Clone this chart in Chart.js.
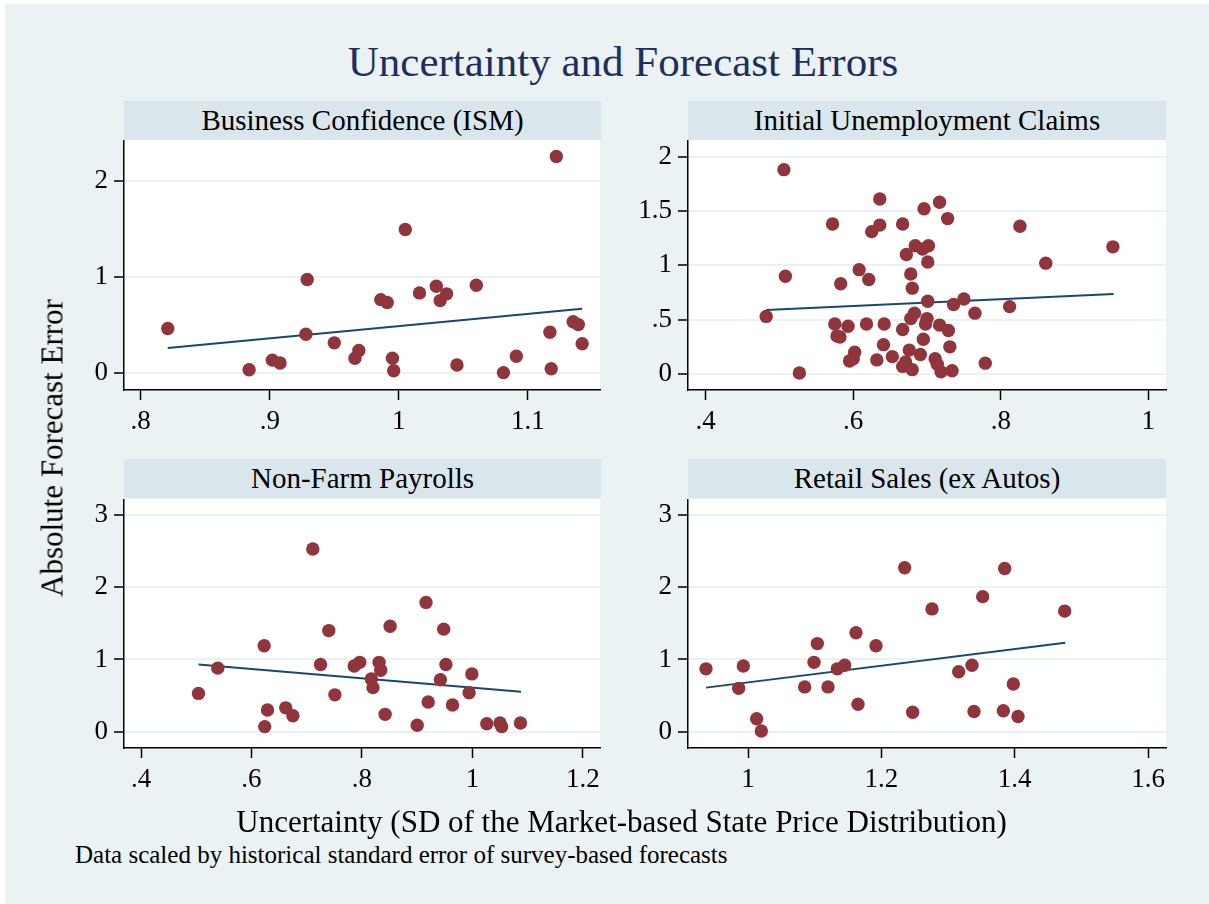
<!DOCTYPE html>
<html>
<head>
<meta charset="utf-8">
<title>Uncertainty and Forecast Errors</title>
<script src="https://cdn.jsdelivr.net/npm/chart.js@4.4.1/dist/chart.umd.min.js"></script>
<style>
  body { margin: 0; width: 1209px; height: 904px; background: #fff; position: relative; overflow: hidden;
         font-family: "Liberation Serif", "Times New Roman", serif; color: #000; }
  #bg { position: absolute; left: 5px; top: 4px; width: 1204px; height: 900px; background: #eaf2f3; }
  .abs { position: absolute; white-space: nowrap; line-height: 1; }
  #title { left: 0; width: 1246px; top: 40px; text-align: center; font-size: 43px; color: #1e2f5e; }
  .bar { position: absolute; height: 39px; background: #d9e6eb; font-size: 29px; line-height: 39px; text-align: center; }
  canvas { position: absolute; }
  #ytitle { left: 52px; top: 448px; font-size: 31px; transform: translate(-50%, -50%) rotate(-90deg); }
  #xtitle { left: 0; width: 1243px; top: 806px; text-align: center; font-size: 31px; }
  #note { left: 75px; top: 842px; font-size: 25px; }
</style>
</head>
<body>
<div id="bg"></div>
<div id="title" class="abs">Uncertainty and Forecast Errors</div>

<div class="bar" style="left:124px; top:101px; width:477px;">Business Confidence (ISM)</div>
<div class="bar" style="left:688px; top:101px; width:478px;">Initial Unemployment Claims</div>
<div class="bar" style="left:124px; top:459px; width:477px;">Non-Farm Payrolls</div>
<div class="bar" style="left:688px; top:459px; width:478px;">Retail Sales (ex Autos)</div>

<canvas id="c1" width="570" height="310" style="left:54px; top:140px;"></canvas>
<canvas id="c2" width="572" height="310" style="left:618px; top:140px;"></canvas>
<canvas id="c3" width="570" height="309" style="left:54px; top:499px;"></canvas>
<canvas id="c4" width="572" height="309" style="left:618px; top:499px;"></canvas>

<div id="ytitle" class="abs">Absolute Forecast Error</div>
<div id="xtitle" class="abs">Uncertainty (SD of the Market-based State Price Distribution)</div>
<div id="note" class="abs">Data scaled by historical standard error of survey-based forecasts</div>

<script>
// Business Confidence (ISM)
var bizX = [0.821, 0.884, 0.902, 0.908, 0.929, 0.928, 0.950, 0.969, 0.966, 0.986, 0.991, 0.995, 0.996, 1.005,
            1.016, 1.029, 1.037, 1.032, 1.060, 1.045, 1.081, 1.091, 1.117, 1.118, 1.122, 1.135, 1.139, 1.142];
var bizY = [0.46, 0.03, 0.13, 0.10, 0.97, 0.40, 0.31, 0.23, 0.15, 0.76, 0.73, 0.15, 0.02, 1.49,
            0.83, 0.90, 0.82, 0.75, 0.91, 0.08, 0.00, 0.17, 0.42, 0.04, 2.25, 0.53, 0.50, 0.30];
var bizFitX = [0.821, 1.142];
var bizFitY = [0.256, 0.664];
var bizXTicks = [0.8, 0.9, 1, 1.1];
var bizYTicks = [0, 1, 2];

// Initial Unemployment Claims
var claimsX = [0.506, 0.636, 0.717, 0.696, 0.728, 0.572, 0.636, 0.667, 0.625, 0.826, 0.684, 0.702, 0.694, 0.672,
               0.701, 0.952, 0.861, 0.608, 0.508, 0.583, 0.621, 0.678, 0.680, 0.701, 0.750, 0.736, 0.812, 0.765,
               0.482, 0.683, 0.678, 0.700, 0.698, 0.717, 0.729, 0.575, 0.593, 0.618, 0.642, 0.667, 0.578, 0.582,
               0.695, 0.641, 0.731, 0.676, 0.691, 0.602, 0.600, 0.595, 0.653, 0.632, 0.711, 0.714, 0.779, 0.671,
               0.667, 0.680, 0.719, 0.734, 0.527];
var claimsY = [1.88, 1.61, 1.58, 1.52, 1.43, 1.38, 1.37, 1.38, 1.31, 1.36, 1.18, 1.18, 1.15, 1.10,
               1.03, 1.17, 1.02, 0.96, 0.90, 0.83, 0.87, 0.92, 0.79, 0.67, 0.69, 0.64, 0.62, 0.56,
               0.53, 0.56, 0.51, 0.51, 0.46, 0.45, 0.40, 0.46, 0.44, 0.46, 0.46, 0.41, 0.35, 0.34,
               0.32, 0.27, 0.25, 0.22, 0.18, 0.20, 0.14, 0.12, 0.16, 0.13, 0.14, 0.09, 0.10, 0.11,
               0.07, 0.04, 0.02, 0.03, 0.01];
var claimsFitX = [0.482, 0.953];
var claimsFitY = [0.59, 0.736];
var claimsXTicks = [0.4, 0.6, 0.8, 1];
var claimsYTicks = [0, 0.5, 1, 1.5, 2];

// Non-Farm Payrolls
var payX = [0.711, 0.916, 0.740, 0.851, 0.948, 0.623, 0.539, 0.504, 0.725, 0.786, 0.796, 0.831, 0.834, 0.817,
            0.820, 0.952, 0.999, 0.942, 0.994, 0.751, 0.629, 0.662, 0.675, 0.624, 0.842, 0.920, 0.964, 0.900,
            1.026, 1.050, 1.053, 1.087];
var payY = [2.53, 1.79, 1.40, 1.46, 1.42, 1.19, 0.88, 0.53, 0.93, 0.91, 0.96, 0.96, 0.85, 0.73,
            0.61, 0.93, 0.80, 0.72, 0.54, 0.51, 0.30, 0.33, 0.22, 0.07, 0.24, 0.41, 0.37, 0.09,
            0.11, 0.12, 0.07, 0.12];
var payFitX = [0.504, 1.088];
var payFitY = [0.93, 0.554];
var payXTicks = [0.4, 0.6, 0.8, 1, 1.2];
var payYTicks = [0, 1, 2, 3];

// Retail Sales (ex Autos)
var retailX = [1.235, 1.385, 1.352, 1.276, 1.475, 1.162, 1.104, 1.192, 0.937, 0.993, 1.099, 1.134, 1.145,
               1.316, 1.336, 0.986, 1.085, 1.120, 1.398, 1.165, 1.247, 1.339, 1.383, 1.405, 1.013, 1.020];
var retailY = [2.27, 2.26, 1.87, 1.70, 1.67, 1.37, 1.22, 1.19, 0.87, 0.91, 0.96, 0.87, 0.92,
               0.83, 0.92, 0.60, 0.62, 0.62, 0.66, 0.38, 0.27, 0.28, 0.29, 0.21, 0.18, 0.01];
var retailFitX = [0.937, 1.476];
var retailFitY = [0.61, 1.23];
var retailXTicks = [1, 1.2, 1.4, 1.6];
var retailYTicks = [0, 1, 2, 3];

var dotColor = '#90353b';
var lineColor = '#1a476f';
var tickFont = { family: "'Liberation Serif', 'Times New Roman', serif", size: 27 };

function fmt(v) {
    return String(Math.round(v * 10) / 10).replace(/^0\./, '.');
}

function pairs(xs, ys) {
    return xs.map(function (x, i) { return { x: x, y: ys[i] }; });
}

// white plot region
var plotBg = {
    id: 'plotBg',
    beforeDraw: function (chart) {
        var a = chart.chartArea, ctx = chart.ctx;
        ctx.save();
        ctx.fillStyle = '#fff';
        ctx.fillRect(a.left, a.top, a.right - a.left, a.bottom - a.top);
        ctx.restore();
    }
};

function panel(id, xs, ys, fitX, fitY, xTicks, yTicks, xRange, yRange) {
    return new Chart(document.getElementById(id), {
        type: 'scatter',
        data: {
            datasets: [
                {
                    data: pairs(xs, ys),
                    backgroundColor: dotColor,
                    borderColor: dotColor,
                    pointRadius: 6.7,
                    pointBorderWidth: 0,
                    order: 0
                },
                {
                    type: 'line',
                    data: pairs(fitX, fitY),
                    borderColor: lineColor,
                    borderWidth: 2,
                    pointRadius: 0,
                    fill: false,
                    order: 1
                }
            ]
        },
        options: {
            responsive: false,
            animation: false,
            events: [],
            layout: { autoPadding: false, padding: { left: 0, top: 0, right: 24, bottom: 0 } },
            plugins: { legend: { display: false }, tooltip: { enabled: false } },
            scales: {
                x: {
                    type: 'linear',
                    min: xRange[0], max: xRange[1],
                    afterBuildTicks: function (s) { s.ticks = xTicks.map(function (v) { return { value: v }; }); },
                    afterFit: function (s) { s.height = 60; s.paddingLeft = 0; s.paddingRight = 0; },
                    grid: { drawOnChartArea: false, tickLength: 10, tickColor: '#000', tickWidth: 1.5 },
                    border: { color: '#000', width: 1.5 },
                    ticks: { font: tickFont, color: '#000', padding: 6, maxRotation: 0, autoSkip: false, callback: fmt }
                },
                y: {
                    min: yRange[0], max: yRange[1],
                    afterBuildTicks: function (s) { s.ticks = yTicks.map(function (v) { return { value: v }; }); },
                    afterFit: function (s) { s.width = 70; s.paddingTop = 0; s.paddingBottom = 0; },
                    grid: { color: '#eaf2f3', lineWidth: 2, tickLength: 10, tickColor: '#000', tickWidth: 1.5 },
                    border: { color: '#000', width: 1.5 },
                    ticks: { font: tickFont, color: '#000', padding: 6, autoSkip: false, callback: fmt }
                }
            }
        },
        plugins: [plotBg]
    });
}

panel('c1', bizX, bizY, bizFitX, bizFitY, bizXTicks, bizYTicks, [0.7871, 1.1558], [-0.181, 2.422]);
panel('c2', claimsX, claimsY, claimsFitX, claimsFitY, claimsXTicks, claimsYTicks, [0.376, 1.024], [-0.147, 2.153]);
panel('c3', payX, payY, payFitX, payFitY, payXTicks, payYTicks, [0.3692, 1.231], [-0.226, 3.222]);
panel('c4', retailX, retailY, retailFitX, retailFitY, retailXTicks, retailYTicks, [0.91, 1.627], [-0.226, 3.222]);
</script>
</body>
</html>
